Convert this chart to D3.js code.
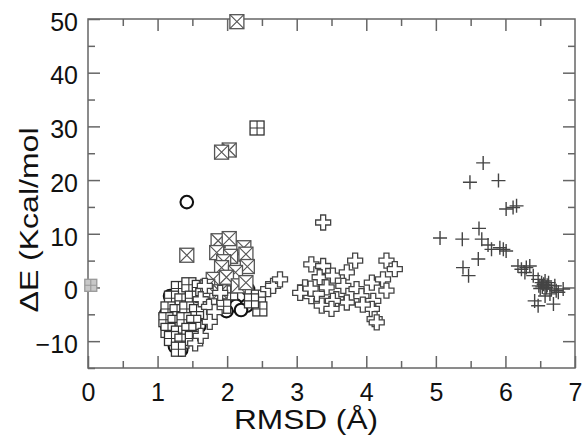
<!DOCTYPE html>
<html>
<head>
<meta charset="utf-8">
<script src="https://cdn.jsdelivr.net/npm/d3@7"></script>
<style>
  body { margin: 0; background: #fff; }
  svg { display: block; font-family: "Liberation Sans", Arial, Helvetica, sans-serif; }
  .axis path, .axis line { stroke: #666; stroke-width: 1.5; }
  .axis text { fill: #111; font-size: 25px; }
</style>
</head>
<body>
<div id="chart"></div>
<script>
// ---- data (RMSD in Å, ΔE in kcal/mol) ----
const xTicks = [0, 1, 2, 3, 4, 5, 6, 7];
const yTicks = [-10, 0, 10, 20, 30, 40, 50];

// reference structure
const refPoint = [[0.04, 0.4]];

// square with X
const squareX = [
  [2.14, 49.5], [2.03, 25.6], [1.92, 25.2], [1.42, 6.0],
  [1.87, 8.7], [2.03, 9.1], [2.24, 7.4], [2.27, 6.2], [1.85, 6.5], [2.05, 5.8],
  [1.95, 4.8], [2.29, 3.9], [1.92, 3.7], [2.12, 2.8], [1.80, 1.5], [1.99, 1.9],
  [2.16, 0.3], [2.27, 0.9], [1.72, 0.2], [1.90, -0.8]
];

// square with plus
const squarePlus = [
  [2.43, 29.7],
  [1.30, -0.2], [1.45, 0.5], [1.60, 0.0], [1.20, -2.0], [1.35, -2.5], [1.50, -2.0],
  [1.65, -1.5], [1.15, -4.0], [1.28, -4.5], [1.42, -4.0], [1.56, -4.5], [1.12, -6.0],
  [1.25, -6.5], [1.38, -6.0], [1.52, -6.5], [1.15, -8.0], [1.30, -8.5], [1.45, -8.0],
  [1.20, -9.5], [1.35, -10.0], [1.50, -9.5], [1.30, -11.5], [1.85, -2.5], [1.95, -3.5],
  [2.05, -1.0], [1.90, -0.5], [2.45, -1.8], [2.47, -4.0], [2.35, -2.5], [1.75, -2.0]
];

// circles
const circles = [
  [1.42, 15.9], [1.18, -1.6], [1.14, -7.4], [1.25, -11.0], [1.60, -7.2], [2.13, -3.4],
  [1.99, -4.4], [2.30, -0.3], [2.28, -3.4], [1.12, -5.0], [1.20, -9.6], [2.20, -4.2],
  [1.34, -11.6]
];

// open thick crosses
const openCross = [
  [1.68, 0.3], [1.62, -2.2], [1.74, -3.6], [1.82, -4.6], [1.75, -6.4], [1.54, -10.4],
  [1.62, -9.0], [1.90, -1.0], [2.59, -0.3], [2.66, 0.3], [2.76, 1.5], [3.38, 12.1],
  [3.21, 4.3], [3.38, 4.0], [3.12, 0.0], [3.33, 1.9], [3.52, 2.2], [3.84, 5.0],
  [3.72, 2.8], [4.29, 5.0], [4.41, 3.4], [3.21, -1.6], [3.36, -3.4], [3.43, 0.0],
  [3.57, -2.2], [3.72, -2.8], [3.67, 0.3], [3.86, -0.3], [3.93, -1.6], [4.08, 0.9],
  [4.24, 1.5], [4.29, -0.6], [4.10, -2.5], [4.08, -4.0], [4.12, -5.9], [4.15, -6.5],
  [3.52, -2.5], [3.29, -1.2], [3.05, -1.0], [3.50, -4.0], [3.95, -3.2], [3.20, -0.2]
];

// thin plus
const thinPlus = [
  [5.68, 23.2], [5.49, 19.6], [5.90, 19.9], [6.01, 14.6], [6.11, 14.9], [6.16, 15.2],
  [5.62, 11.0], [5.06, 9.2], [5.38, 9.0], [5.66, 9.0], [5.75, 7.9], [5.80, 7.1],
  [5.92, 7.4], [5.97, 7.1], [6.01, 6.8], [5.61, 5.3], [5.39, 3.7], [5.47, 2.2],
  [6.18, 4.0], [6.23, 3.4], [6.30, 3.7], [6.35, 4.0], [6.28, 2.8], [6.40, 2.2],
  [6.47, 1.5], [6.52, 0.9], [6.57, 1.2], [6.48, 0.3], [6.59, 0.0], [6.66, -0.3],
  [6.71, 0.3], [6.55, 0.6], [6.62, 0.9], [6.50, -0.2], [6.64, -1.2], [6.73, -0.6],
  [6.83, -0.3], [6.76, -0.9], [6.42, -2.5], [6.47, -3.4], [6.69, -3.1], [6.57, -1.6],
  [6.60, 0.4], [6.53, 0.1]
];

// ---- layout ----
const W = 583, H = 437;
const m = { left: 88, right: 8, top: 19, bottom: 69 };

const svg = d3.select('#chart').append('svg').attr('width', W).attr('height', H);

const x = d3.scaleLinear().domain([0, 7]).range([m.left, W - m.right]);
const y = d3.scaleLinear().domain([-15, 50]).range([H - m.bottom, m.top]);

const minorX = d3.range(0.5, 7, 1);
const minorY = d3.range(-15, 50, 10);

// frame
svg.append('rect')
  .attr('x', x(0)).attr('y', y(50))
  .attr('width', x(7) - x(0)).attr('height', y(-15) - y(50))
  .attr('fill', 'none').attr('stroke', '#666').attr('stroke-width', 1.5);

// axes, ticks pointing inwards
function addAxis(axis, tx, ty, labels) {
  const g = svg.append('g').attr('class', 'axis').attr('transform', `translate(${tx},${ty})`).call(axis);
  g.select('.domain').remove();
  if (!labels) g.selectAll('text').remove();
  return g;
}
const bottomAxis = addAxis(d3.axisBottom(x).tickValues(xTicks).tickSize(-12).tickFormat(d3.format('d')), 0, y(-15), true);
bottomAxis.selectAll('text').attr('dy', '0.71em').attr('y', 15);
addAxis(d3.axisBottom(x).tickValues(minorX).tickSize(-7), 0, y(-15), false);
addAxis(d3.axisTop(x).tickValues(xTicks.slice(1, -1)).tickSize(-12), 0, y(50), false);
addAxis(d3.axisTop(x).tickValues(minorX).tickSize(-7), 0, y(50), false);

const leftAxis = addAxis(d3.axisLeft(y).tickValues(yTicks).tickSize(-12).tickFormat(d3.format('d')), x(0), 0, true);
leftAxis.selectAll('text').attr('x', -10).attr('dy', '0.45em');
addAxis(d3.axisLeft(y).tickValues(minorY).tickSize(-7), x(0), 0, false);
addAxis(d3.axisRight(y).tickValues(yTicks.slice(0, -1)).tickSize(-12), x(7), 0, false);
addAxis(d3.axisRight(y).tickValues(minorY.slice(1)).tickSize(-7), x(7), 0, false);

// axis titles
svg.append('text')
  .attr('x', 306).attr('y', 429)
  .attr('text-anchor', 'middle')
  .attr('font-size', 27).attr('fill', '#111')
  .attr('textLength', 144).attr('lengthAdjust', 'spacingAndGlyphs')
  .text('RMSD (Å)');

svg.append('text')
  .attr('transform', 'translate(38,220) rotate(-90)')
  .attr('text-anchor', 'middle')
  .attr('font-size', 25).attr('fill', '#111')
  .attr('textLength', 185).attr('lengthAdjust', 'spacingAndGlyphs')
  .text('ΔE (Kcal/mol');

// ---- markers ----
const plot = svg.append('g');
const pos = d => `translate(${x(d[0])},${y(d[1])})`;

function boxMarkers(data, size, cross, stroke, fill) {
  const h = size / 2;
  const g = plot.append('g').selectAll('g').data(data).join('g').attr('transform', pos);
  g.append('rect').attr('x', -h).attr('y', -h).attr('width', size).attr('height', size)
    .attr('fill', fill).attr('stroke', stroke).attr('stroke-width', 1.3);
  const inner = cross === 'x'
    ? `M${-h},${-h}L${h},${h}M${h},${-h}L${-h},${h}`
    : `M0,${-h}L0,${h}M${-h},0L${h},0`;
  g.append('path').attr('d', inner).attr('fill', 'none').attr('stroke', stroke).attr('stroke-width', 1.1);
}

// circles behind everything
plot.append('g').selectAll('circle').data(circles).join('circle')
  .attr('cx', d => x(d[0])).attr('cy', d => y(d[1])).attr('r', 6.3)
  .attr('fill', '#fff').attr('stroke', '#111').attr('stroke-width', 2.1);

boxMarkers(refPoint, 12, '+', '#999', '#c8c8c8');
boxMarkers(squarePlus, 14, '+', '#333', '#fff');
boxMarkers(squareX, 14, 'x', '#555', '#fff');

plot.append('g').selectAll('path').data(openCross).join('path')
  .attr('transform', pos)
  .attr('d', d3.symbol(d3.symbolCross, 125))
  .attr('fill', '#fff').attr('stroke', '#444').attr('stroke-width', 1.3);

plot.append('g').selectAll('path').data(thinPlus).join('path')
  .attr('transform', pos)
  .attr('d', 'M-7,0L7,0M0,-7L0,7')
  .attr('fill', 'none').attr('stroke', '#444').attr('stroke-width', 1.4);
</script>
</body>
</html>
